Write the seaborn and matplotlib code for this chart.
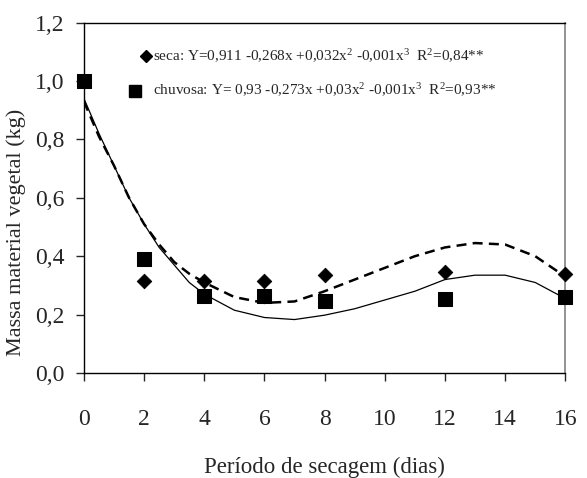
import numpy as np
import pandas as pd
import matplotlib
matplotlib.use('Agg')
import matplotlib.pyplot as plt
import seaborn as sns

# observed points
dias = [0, 2, 4, 6, 8, 12, 16]
seca_obs = [1.00, 0.315, 0.315, 0.315, 0.335, 0.345, 0.34]
chuvosa_obs = [1.00, 0.39, 0.265, 0.265, 0.245, 0.255, 0.26]

# fitted curves
curva_x = [0, 0.5, 1, 1.5, 2, 2.5, 3, 3.5, 4, 5, 6, 7, 8, 9, 10, 11, 12, 13, 14, 15, 16]
seca_fit = [0.93, 0.81, 0.71, 0.60, 0.51, 0.44, 0.38, 0.34, 0.31, 0.26, 0.24, 0.245,
            0.28, 0.32, 0.36, 0.40, 0.43, 0.445, 0.44, 0.40, 0.33]
chuvosa_fit = [0.94, 0.82, 0.71, 0.60, 0.51, 0.43, 0.37, 0.31, 0.27, 0.215, 0.19, 0.183,
               0.198, 0.22, 0.25, 0.28, 0.32, 0.335, 0.335, 0.31, 0.255]

y_ticks = [0.0, 0.2, 0.4, 0.6, 0.8, 1.0, 1.2]
x_ticks = [0, 2, 4, 6, 8, 10, 12, 14, 16]

sns.set_style("ticks")
plt.rcParams['font.family'] = ['Liberation Serif', 'DejaVu Serif']
plt.rcParams['mathtext.fontset'] = 'custom'
plt.rcParams['mathtext.rm'] = 'Liberation Serif'
plt.rcParams['mathtext.default'] = 'regular'

obs = pd.DataFrame({'x': dias, 'seca': seca_obs, 'chuvosa': chuvosa_obs})
fit = pd.DataFrame({'x': curva_x, 'seca': seca_fit, 'chuvosa': chuvosa_fit})

fig = plt.figure(figsize=(5.87, 4.78), dpi=100)
ax = fig.add_axes([0.143, 0.2197, 0.82, 0.733])

sns.lineplot(data=fit, x='x', y='chuvosa', ax=ax, color='black', lw=0.9)
sns.lineplot(data=fit, x='x', y='seca', ax=ax, color='black', lw=1.8,
             dashes=False, linestyle=(0, (4, 2.5)))
sns.scatterplot(data=obs, x='x', y='chuvosa', ax=ax, marker='s', s=90,
                color='black', edgecolor='black', zorder=5, clip_on=False)
sns.scatterplot(data=obs, x='x', y='seca', ax=ax, marker='D', s=55,
                color='black', edgecolor='black', zorder=6, clip_on=False)

ax.set_xlim(0, 16)
ax.set_ylim(0, 1.2)
ax.set_xticks(x_ticks)
ax.set_yticks(y_ticks)
ax.set_xticklabels([str(v) for v in x_ticks])
ax.set_yticklabels([f'{v:.1f}'.replace('.', ',') for v in y_ticks])
ax.tick_params(axis='both', direction='out', length=6, width=1, labelsize=17, pad=8)
ax.tick_params(axis='x', pad=20)
ax.set_xlabel('Período de secagem (dias)', fontsize=16.5, labelpad=19)
ax.set_ylabel('Massa material vegetal (kg)', fontsize=16)
ax.yaxis.set_label_coords(-0.12, 0.40)

for side in ['left', 'bottom', 'top']:
    ax.spines[side].set_color('black')
    ax.spines[side].set_linewidth(1)
ax.spines['right'].set_visible(True)
ax.spines['right'].set_color('#808080')
ax.spines['right'].set_linewidth(1.2)

# legend written as text with markers
ax.plot([0.128], [0.905], marker='D', ms=6.5, color='black', transform=ax.transAxes, clip_on=False)
ax.text(0.143, 0.905, 'seca: Y=0,911 -0,268x +0,032x$^2$ -0,001x$^3$  R$^2$=0,84**',
        transform=ax.transAxes, fontsize=11, va='center')
ax.plot([0.107], [0.806], marker='s', ms=8, color='black', transform=ax.transAxes, clip_on=False)
ax.text(0.143, 0.806, 'chuvosa: Y= 0,93 -0,273x +0,03x$^2$ -0,001x$^3$  R$^2$=0,93**',
        transform=ax.transAxes, fontsize=11, va='center')

plt.savefig('out.png', dpi=100)
